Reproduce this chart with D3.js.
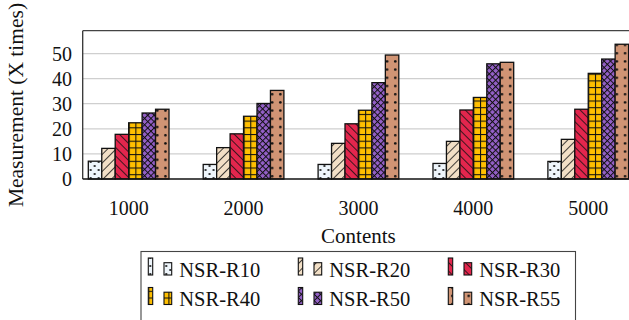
<!DOCTYPE html>
<html><head><meta charset="utf-8">
<script src="https://cdn.jsdelivr.net/npm/d3@7"></script>
<style>body{margin:0;background:#fff}svg{display:block}</style>
</head><body><svg id="c" width="629" height="320"></svg>
<script>
const categories = ["1000", "2000", "3000", "4000", "5000"];
const seriesNames = ["NSR-R10", "NSR-R20", "NSR-R30", "NSR-R40", "NSR-R50", "NSR-R55"];
const r10 = [7.1, 5.8, 5.8, 6.2, 7.0];
const r20 = [12.2, 12.5, 14.2, 15.0, 15.8];
const r30 = [17.8, 18.0, 22.0, 27.5, 27.8];
const r40 = [22.4, 25.0, 27.4, 32.5, 42.1];
const r50 = [26.3, 30.1, 38.4, 45.9, 47.8];
const r55 = [27.8, 35.3, 49.4, 46.5, 53.7];
const yTicks = [0, 10, 20, 30, 40, 50];
const values = [r10, r20, r30, r40, r50, r55];

const svg = d3.select("#c");
const FONT = '"Liberation Serif"';
const L = 82.7, R = 634.2, T = 30.7, B = 179;
const x = d3.scalePoint().domain(categories).range([L, R]).padding(0.4);
const inner = d3.scaleBand().domain(seriesNames).range([-40.35, 40.35]).padding(0);
const y = d3.scaleLinear().domain([0, 59.1]).range([B, T]);

// patterns
const defs = svg.append("defs");
const fills = ["#eef5fb", "#f2dfc6", "#e3264d", "#ffbf00", "#9460c8", "#d09474"];
function pat(id, size, bg, transform, draw) {
  const p = defs.append("pattern").attr("id", id).attr("patternUnits", "userSpaceOnUse")
    .attr("width", size).attr("height", size);
  if (transform) p.attr("patternTransform", transform);
  p.append("rect").attr("width", size).attr("height", size).attr("fill", bg);
  draw(p, size);
}
pat("p0", 8, fills[0], null, (p) => {
  p.append("circle").attr("cx", 2).attr("cy", 2).attr("r", 1.1).attr("fill", "#111");
  p.append("circle").attr("cx", 6).attr("cy", 6).attr("r", 1.1).attr("fill", "#111");
});
pat("p1", 6, fills[1], "rotate(45)", (p, s) => {
  p.append("line").attr("x1", 0).attr("y1", 0).attr("x2", 0).attr("y2", s).attr("stroke", "#111").attr("stroke-width", 1.6);
});
pat("p2", 6, fills[2], "rotate(-45)", (p, s) => {
  p.append("line").attr("x1", 0).attr("y1", 0).attr("x2", 0).attr("y2", s).attr("stroke", "#111").attr("stroke-width", 1.6);
});
pat("p3", 6.7, fills[3], null, (p, s) => {
  p.append("line").attr("x1", 0).attr("y1", 0.5).attr("x2", s).attr("y2", 0.5).attr("stroke", "#111").attr("stroke-width", 1.1);
  p.append("line").attr("x1", 0.5).attr("y1", 0).attr("x2", 0.5).attr("y2", s).attr("stroke", "#111").attr("stroke-width", 1.1);
});
pat("p4", 4.5, fills[4], "rotate(45)", (p, s) => {
  p.append("line").attr("x1", 0).attr("y1", 0.5).attr("x2", s).attr("y2", 0.5).attr("stroke", "#111").attr("stroke-width", 1);
  p.append("line").attr("x1", 0.5).attr("y1", 0).attr("x2", 0.5).attr("y2", s).attr("stroke", "#111").attr("stroke-width", 1);
});
pat("p5", 8.2, fills[5], null, (p) => {
  p.append("circle").attr("cx", 4).attr("cy", 4).attr("r", 1.3).attr("fill", "#111");
});

// grid
svg.append("g").selectAll("line").data(yTicks.filter(d => d > 0)).join("line")
  .attr("x1", L).attr("x2", 629).attr("y1", d => y(d)).attr("y2", d => y(d))
  .attr("stroke", "#cfcfcf").attr("stroke-width", 1.3);

// bars
const groups = svg.append("g").selectAll("g").data(categories).join("g")
  .attr("transform", d => `translate(${x(d)},0)`);
groups.selectAll("rect").data((c, ci) => seriesNames.map((s, si) => ({ s, si, v: values[si][ci] })))
  .join("rect")
  .attr("x", d => inner(d.s)).attr("width", inner.bandwidth())
  .attr("y", d => y(d.v)).attr("height", d => B - y(d.v))
  .attr("fill", d => `url(#p${d.si})`).attr("stroke", "#111").attr("stroke-width", 1.3);

// axes frame
svg.append("line").attr("x1", L).attr("x2", 629).attr("y1", T).attr("y2", T).attr("stroke", "#444").attr("stroke-width", 1.3);
svg.append("line").attr("x1", L).attr("x2", L).attr("y1", T).attr("y2", B).attr("stroke", "#333").attr("stroke-width", 1.3);
svg.append("line").attr("x1", L).attr("x2", 629).attr("y1", B).attr("y2", B).attr("stroke", "#111").attr("stroke-width", 1.5);

const txt = (sel) => sel.style("font-family", FONT).attr("fill", "#111");

// y ticks
svg.append("g").selectAll("text").data(yTicks).join("text").call(txt)
  .attr("x", 72).attr("y", d => y(d)).attr("dy", "0.35em").attr("text-anchor", "end")
  .style("font-size", "20px").text(d => d);

// x ticks
svg.append("g").selectAll("text").data(categories).join("text").call(txt)
  .attr("x", d => x(d)).attr("y", 215).attr("text-anchor", "middle")
  .style("font-size", "20px").text(d => d);

svg.append("text").call(txt).attr("x", (L + R) / 2).attr("y", 242.5).attr("text-anchor", "middle")
  .style("font-size", "21px").text("Contents");
svg.append("text").call(txt).attr("transform", "translate(23,105) rotate(-90)").attr("text-anchor", "middle")
  .style("font-size", "21.5px").text("Measurement (X times)");

// legend
const lg = svg.append("g");
lg.append("rect").attr("x", 141).attr("y", 251.5).attr("width", 434.5).attr("height", 90)
  .attr("fill", "#fff").attr("stroke", "#444").attr("stroke-width", 1.1);
const items = lg.selectAll("g").data(seriesNames).join("g")
  .attr("transform", (d, i) => `translate(${148.3 + (i % 3) * 150},${(Math.floor(i / 3)) * 29.5})`);
items.append("rect").attr("x", 0).attr("y", 258).attr("width", 4.4).attr("height", 17)
  .attr("fill", (d, i) => `url(#p${i})`).attr("stroke", "#111").attr("stroke-width", 1.1);
items.append("rect").attr("x", 15.7).attr("y", 262.7).attr("width", 7.7).attr("height", 12.3)
  .attr("fill", (d, i) => `url(#p${i})`).attr("stroke", "#111").attr("stroke-width", 1.1);
items.append("text").call(txt).attr("x", 31).attr("y", 276.5).style("font-size", "20.5px").text(d => d);
</script></body></html>
